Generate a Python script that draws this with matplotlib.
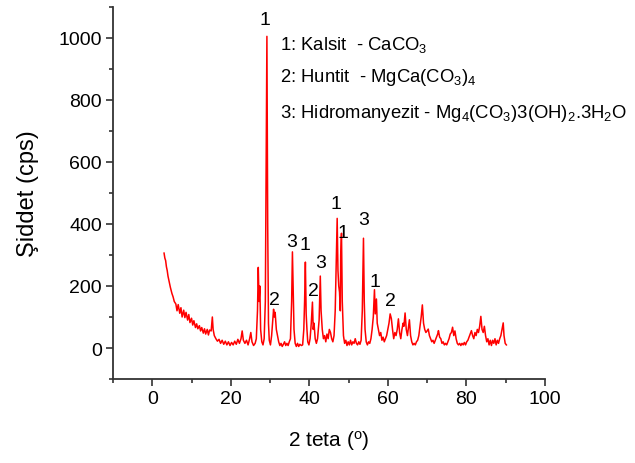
import matplotlib
matplotlib.use("Agg")
import matplotlib.pyplot as plt
from matplotlib.ticker import MultipleLocator

plt.rcParams['font.family'] = ['Liberation Sans', 'DejaVu Sans']
plt.rcParams['mathtext.fontset'] = 'custom'
plt.rcParams['mathtext.rm'] = 'Liberation Sans'
plt.rcParams['mathtext.default'] = 'regular'

# XRD pattern (2 theta in degrees, intensity in cps)
two_theta = [3.0, 3.2, 3.4, 3.6, 3.8, 4.0, 4.3, 4.6, 5.0, 5.3, 5.6, 6.0, 6.3, 6.6, 7.0, 7.3, 7.6,
             8.0, 8.3, 8.6, 9.0, 9.3, 9.6, 10.0, 10.3, 10.6, 11.0, 11.3, 11.6, 12.0, 12.3, 12.6,
             13.0, 13.3, 13.6, 14.0, 14.3, 14.6,
             15.0, 15.3, 15.5, 15.8, 16.2, 16.6, 17.0, 17.4, 17.8, 18.2, 18.6, 19.0, 19.4, 19.8,
             20.2, 20.6, 21.0, 21.4, 21.8, 22.2, 22.6, 22.9, 23.2, 23.6, 24.0, 24.4, 24.8, 25.1,
             25.4, 25.8, 26.2, 26.5, 26.8, 27.0, 27.2, 27.4, 27.6, 27.9, 28.2, 28.5, 28.8, 29.0,
             29.2, 29.4, 29.6, 29.8, 30.1, 30.4, 30.7, 30.9, 31.1, 31.3, 31.6, 31.9, 32.2, 32.5,
             32.8, 33.1, 33.4, 33.7, 34.0, 34.3, 34.6, 34.9, 35.2, 35.5, 35.7, 35.9, 36.1, 36.4,
             36.7, 37.0, 37.3, 37.6, 38.0, 38.3, 38.6, 38.8, 39.0, 39.2, 39.4, 39.6, 39.9, 40.2,
             40.5, 40.8, 41.0, 41.2, 41.5, 41.8, 42.1, 42.5, 42.8, 43.0, 43.3, 43.6, 43.9, 44.2,
             44.5, 44.8, 45.1, 45.4, 45.7, 46.0, 46.3, 46.6, 46.9, 47.1, 47.3, 47.5, 47.7, 47.9,
             48.0, 48.2, 48.4, 48.7, 49.0, 49.3, 49.6, 49.9, 50.2, 50.5, 50.8, 51.1, 51.4, 51.7,
             52.0, 52.3, 52.6, 52.9, 53.2, 53.5, 53.8, 54.0, 54.2, 54.5, 54.8, 55.1, 55.4, 55.7,
             56.0, 56.3, 56.6, 56.8, 57.1, 57.3, 57.6, 57.9, 58.2, 58.5, 58.8, 59.1, 59.4, 59.7,
             60.0, 60.3, 60.6, 60.9, 61.2, 61.5, 61.8, 62.1, 62.4, 62.7, 63.0, 63.3, 63.6, 63.9,
             64.1, 64.4, 64.7, 65.0, 65.3, 65.5, 65.8, 66.1, 66.4, 66.7, 67.0, 67.3, 67.6, 67.9,
             68.2, 68.5, 68.8, 69.1, 69.4, 69.7, 70.0, 70.3, 70.6, 70.9, 71.2, 71.5, 71.8, 72.1,
             72.4, 72.7, 72.9, 73.2, 73.5, 73.8, 74.1, 74.4, 74.7, 75.0, 75.3, 75.6, 75.9, 76.2,
             76.5, 76.8, 77.1, 77.4, 77.7, 78.0, 78.3, 78.6, 78.9, 79.2, 79.5, 79.8, 80.1, 80.4,
             80.7, 81.0, 81.3, 81.6, 81.9, 82.2, 82.5, 82.8, 83.1, 83.4, 83.7, 84.0, 84.3, 84.6,
             84.9, 85.2, 85.5, 85.8, 86.1, 86.4, 86.7, 87.0, 87.3, 87.6, 87.9, 88.2, 88.5, 88.8,
             89.1, 89.4, 89.6, 89.9, 90.2]
intensity = [306, 290, 282, 262, 250, 232, 214, 196, 176, 165, 150, 142, 120, 140, 112, 130, 100,
             122, 98, 115, 90, 108, 82, 96, 74, 88, 66, 78, 62, 72, 55, 66, 48, 62, 45, 60, 42, 58,
             55, 100, 60, 40, 30, 22, 28, 15, 25, 12, 22, 10, 20, 8,
             18, 10, 22, 12, 28, 15, 30, 55, 25, 15, 25, 10, 30, 50,
             20, 8, 15, 30, 120, 260, 150, 200, 60, 20, 10, 30, 150, 600,
             1005, 400, 80, 25, 10, 40, 90, 125, 100, 115, 60, 40, 20, 8,
             15, 5, 12, 20, 8, 15, 8, 20, 30, 150, 310, 180, 60, 15,
             5, 15, 5, 12, 8, 10, 60, 150, 277, 110, 60, 20, 10, 30,
             80, 148, 60, 80, 30, 15, 30, 90, 232, 120, 60, 30, 40, 20,
             45, 30, 60, 50, 30, 20, 40, 120, 300, 418, 250, 200, 180, 120,
             300, 370, 150, 40, 15, 25, 8, 20, 10, 25, 10, 20, 15, 30,
             15, 10, 20, 12, 25, 120, 354, 150, 60, 20, 10, 20, 15, 30,
             60, 100, 188, 110, 158, 80, 60, 40, 50, 25, 35, 20, 30, 40,
             60, 80, 110, 95, 60, 30, 50, 40, 60, 94, 50, 30, 60, 80,
             70, 113, 60, 40, 70, 91, 40, 20, 10, 15, 10, 20, 25, 40,
             70, 100, 139, 80, 60, 50, 55, 61, 40, 30, 20, 25, 15, 25,
             35, 45, 56, 35, 30, 15, 20, 10, 15, 10, 20, 30, 45, 50,
             67, 40, 55, 30, 15, 10, 15, 8, 15, 10, 18, 10, 20, 25,
             35, 45, 56, 40, 30, 50, 40, 60, 50, 70, 102, 60, 50, 70,
             40, 20, 30, 10, 25, 8, 25, 15, 30, 10, 25, 15, 30, 40,
             60, 81, 40, 15, 10]

# phase labels above the peaks
label_x = [28.8, 35.4, 31.0, 38.9, 41.0, 43.0, 46.8, 48.6, 53.9, 56.7, 60.6]
label_y = [1058, 345, 158, 335, 187, 277, 465, 374, 416, 213, 152]
label_text = ['1', '3', '2', '1', '2', '3', '1', '1', '3', '1', '2']

legend_lines = [r'1: Kalsit  - CaCO$_3$',
                r'2: Huntit  - MgCa(CO$_3$)$_4$',
                r'3: Hidromanyezit - Mg$_4$(CO$_3$)3(OH)$_2$.3H$_2$O']
legend_y = [980, 877, 761]

fig = plt.figure(figsize=(6.35, 4.64), dpi=100)
ax = fig.add_axes([0.178, 0.181, 0.68, 0.802])

ax.plot(two_theta, intensity, color='#ff0000', linewidth=1.1)

for i in range(len(label_x)):
    ax.text(label_x[i], label_y[i], label_text[i], fontsize=14, ha='center', va='center')

for i in range(len(legend_lines)):
    ax.text(32.6, legend_y[i], legend_lines[i], fontsize=13.3, ha='left', va='center')

ax.set_xlim(-10, 100)
ax.set_ylim(-100, 1100)
ax.xaxis.set_major_locator(MultipleLocator(20))
ax.xaxis.set_minor_locator(MultipleLocator(10))
ax.yaxis.set_major_locator(MultipleLocator(200))
ax.yaxis.set_minor_locator(MultipleLocator(100))

ax.spines['top'].set_visible(False)
ax.spines['right'].set_visible(False)
for s in ['left', 'bottom']:
    ax.spines[s].set_linewidth(1.3)
    ax.spines[s].set_color('#333333')
ax.tick_params(which='major', length=5, width=1.2, labelsize=14, color='#333333', direction='out', pad=3)
ax.tick_params(which='minor', length=3, width=1.2, color='#333333', direction='out')

ax.set_xlabel(r'2 teta ($^o$)', fontsize=15, labelpad=15)
ax.set_ylabel('Şiddet (cps)', fontsize=17, labelpad=14)

fig.savefig('out.png', dpi=100)
